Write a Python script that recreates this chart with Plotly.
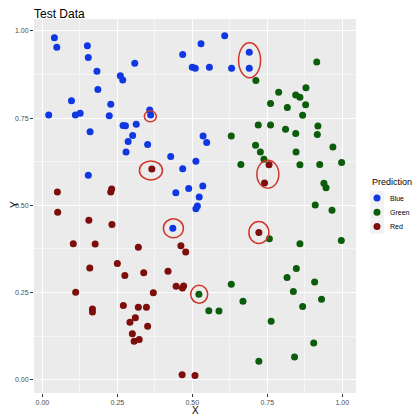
import plotly.graph_objects as go

# points by predicted class
blue_x = [0.040, 0.048, 0.150, 0.153, 0.182, 0.185, 0.308, 0.260, 0.268, 0.097,
          0.021, 0.110, 0.126, 0.228, 0.223, 0.159, 0.269, 0.277, 0.313, 0.301,
          0.286, 0.279, 0.358, 0.361, 0.351, 0.428, 0.468, 0.512, 0.153, 0.445,
          0.488, 0.468, 0.500, 0.510, 0.529, 0.608, 0.557, 0.631, 0.690, 0.690,
          0.536, 0.548, 0.535, 0.523, 0.517, 0.512, 0.435]
blue_y = [0.980, 0.953, 0.957, 0.924, 0.884, 0.832, 0.907, 0.871, 0.859, 0.800,
          0.759, 0.759, 0.764, 0.790, 0.757, 0.711, 0.729, 0.728, 0.732, 0.700,
          0.683, 0.653, 0.773, 0.759, 0.674, 0.640, 0.605, 0.626, 0.586, 0.536,
          0.548, 0.932, 0.896, 0.893, 0.963, 0.986, 0.896, 0.893, 0.939, 0.893,
          0.699, 0.680, 0.555, 0.524, 0.498, 0.490, 0.434]

green_x = [0.915, 0.712, 0.788, 0.879, 0.845, 0.859, 0.761, 0.817, 0.878, 0.868,
           0.720, 0.761, 0.811, 0.845, 0.919, 0.917, 0.630, 0.969, 0.711, 0.727,
           0.846, 0.739, 0.662, 0.859, 0.925, 0.998, 0.939, 0.946, 0.910, 0.966,
           0.757, 0.859, 0.997, 0.847, 0.816, 0.908, 0.630, 0.837, 0.931, 0.669,
           0.555, 0.589, 0.868, 0.763, 0.905, 0.841, 0.722, 0.522]
green_y = [0.911, 0.858, 0.824, 0.837, 0.816, 0.810, 0.792, 0.780, 0.788, 0.758,
           0.730, 0.730, 0.718, 0.706, 0.727, 0.703, 0.699, 0.667, 0.672, 0.653,
           0.653, 0.632, 0.617, 0.616, 0.617, 0.623, 0.563, 0.550, 0.501, 0.486,
           0.404, 0.390, 0.399, 0.319, 0.293, 0.280, 0.274, 0.253, 0.231, 0.225,
           0.198, 0.197, 0.210, 0.168, 0.105, 0.065, 0.053, 0.245]

red_x = [0.365, 0.050, 0.231, 0.228, 0.051, 0.155, 0.232, 0.103, 0.176, 0.320,
         0.462, 0.478, 0.250, 0.158, 0.275, 0.338, 0.419, 0.111, 0.370, 0.446,
         0.467, 0.471, 0.167, 0.167, 0.270, 0.320, 0.347, 0.292, 0.310, 0.351,
         0.300, 0.306, 0.323, 0.466, 0.509, 0.756, 0.741, 0.722]
red_y = [0.604, 0.538, 0.547, 0.538, 0.480, 0.457, 0.445, 0.390, 0.389, 0.380,
         0.384, 0.366, 0.333, 0.320, 0.299, 0.307, 0.311, 0.251, 0.249, 0.268,
         0.263, 0.269, 0.203, 0.194, 0.213, 0.208, 0.208, 0.165, 0.178, 0.153,
         0.132, 0.110, 0.115, 0.014, 0.012, 0.616, 0.564, 0.422]

# highlighted points (red outlines)
ring_x = [0.360, 0.362, 0.691, 0.752, 0.437, 0.523, 0.722]
ring_y = [0.755, 0.600, 0.916, 0.589, 0.434, 0.245, 0.422]
ring_w = [12, 23, 22, 22, 20, 17, 20]
ring_h = [11, 19, 35, 28, 19, 18, 22]

classes = ["Blue", "Green", "Red"]
colors = ["#1038e2", "#0b5c0b", "#7d0e0b"]

ticks = [0, 0.25, 0.5, 0.75, 1.0]
tick_text = ["0.00", "0.25", "0.50", "0.75", "1.00"]

# page has an 8px body margin, so the figure is 412 and shifted up/left
OFF = 8
W, H = 412, 412
L, R, T, B = 26, 64, 11, 27
pw, ph = W - L - R, H - T - B

def px_x(p):
    return (p - OFF - L) / pw

def px_y(p):
    return (H - B - (p - OFF)) / ph

fig = go.Figure()
for name, xs, ys, col in zip(classes, [blue_x, green_x, red_x],
                             [blue_y, green_y, red_y], colors):
    fig.add_trace(go.Scatter(x=xs, y=ys, mode="markers", name=name,
                             marker=dict(color=col, size=7, line=dict(width=0))))

for cx, cy, w, h in zip(ring_x, ring_y, ring_w, ring_h):
    fig.add_shape(type="circle", xref="x", yref="y",
                  xsizemode="pixel", ysizemode="pixel", xanchor=cx, yanchor=cy,
                  x0=-w / 2, x1=w / 2, y0=-h / 2, y1=h / 2,
                  line=dict(color="#d0352a", width=1.5))

# ggplot-like legend drawn by hand (tighter than plotly's own)
fig.add_annotation(x=px_x(370), y=px_y(182), xref="paper", yref="paper",
                   text="Prediction", showarrow=False, xanchor="left",
                   yanchor="middle", font=dict(size=9))
for i, (name, col) in enumerate(zip(classes, colors)):
    yy = px_y(198 + 14.3 * i)
    fig.add_shape(type="rect", xref="paper", yref="paper",
                  x0=px_x(370), x1=px_x(384), y0=yy - 7 / ph, y1=yy + 7 / ph,
                  fillcolor="#f2f2f2", line=dict(width=0), layer="below")
    fig.add_shape(type="circle", xref="paper", yref="paper",
                  x0=px_x(373.5), x1=px_x(380.5), y0=yy - 3.5 / ph, y1=yy + 3.5 / ph,
                  fillcolor=col, line=dict(width=0))
    fig.add_annotation(x=px_x(388), y=yy, xref="paper", yref="paper",
                       text=name, showarrow=False, xanchor="left",
                       yanchor="middle", font=dict(size=7))

fig.add_annotation(x=0.5, y=px_y(410), xref="paper", yref="paper", text="X",
                   showarrow=False, xanchor="center", yanchor="middle",
                   font=dict(size=10))
fig.add_annotation(x=px_x(14), y=px_y(205), xref="paper", yref="paper", text="Y",
                   showarrow=False, textangle=-90, xanchor="center",
                   yanchor="middle", font=dict(size=10))

axis = dict(tickvals=ticks, ticktext=tick_text, showgrid=True, gridcolor="white",
            gridwidth=1.1, zeroline=False, ticks="outside", ticklen=3,
            tickcolor="#333333", tickfont=dict(size=7, color="#4d4d4d"),
            automargin=False,
            minor=dict(showgrid=True, gridcolor="#f5f5f5", gridwidth=0.5, dtick=0.125))

fig.update_layout(
    width=W, height=H,
    margin=dict(l=L, r=R, t=T, b=B, autoexpand=False),
    paper_bgcolor="white", plot_bgcolor="#ebebeb",
    font=dict(family="Liberation Sans, Arial, sans-serif", color="black"),
    title=dict(text="Test Data", x=L / W, xanchor="left", y=1 - 6 / H,
               yanchor="middle", font=dict(size=12)),
    xaxis=dict(axis, range=[-0.028, 1.046]),
    yaxis=dict(axis, range=[-0.038, 1.034]),
    showlegend=False,
)

fig.write_html("out.html")
